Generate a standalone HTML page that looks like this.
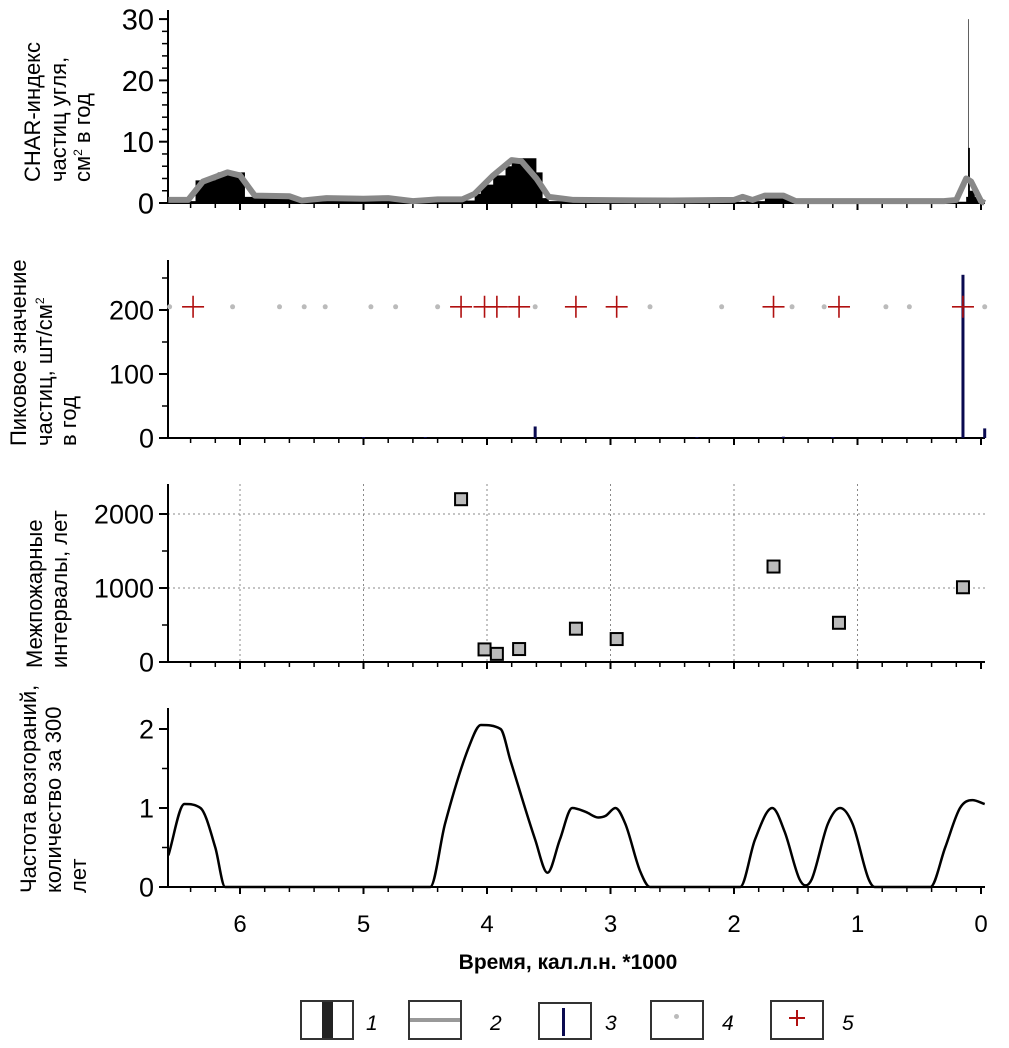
<!DOCTYPE html>
<html><head><meta charset="utf-8"><style>
body{margin:0;background:#fff}
svg{display:block;font-family:"Liberation Sans",sans-serif}
</style></head><body>
<svg id="c" width="1009" height="1048" viewBox="0 0 1009 1048" xmlns="http://www.w3.org/2000/svg"></svg>
<script>
// ---- data ----
const xTicks=[6,5,4,3,2,1,0];
const charT=[6.58,6.4,6.36,6.2,6.18,6.0,5.96,5.62,5.55,5.3,5.0,4.85,4.7,4.45,4.2,4.1,4.05,3.95,3.85,3.8,3.7,3.6,3.55,3.5,2.5,1.95,1.9,1.82,1.75,1.55,1.5,0.2,0.12,0.105,0.1,0.09,0.05,0.0,-0.03];
const charV=[0.3,0.3,3.7,4.0,5.0,5.0,1.0,1.0,0.3,0.6,0.5,0.7,0.2,0.5,0.4,1.5,3,4.5,6,7.3,7.3,5,0.8,0.3,0.2,0.2,0.8,0.3,1.0,0.8,0.2,0.2,1,30,9,2,1,0.3,0];
const bgT=[6.58,6.42,6.3,6.1,6.0,5.88,5.6,5.5,5.3,5.0,4.8,4.6,4.4,4.2,4.1,3.95,3.8,3.72,3.6,3.5,3.3,2.5,2.0,1.93,1.85,1.75,1.6,1.5,0.3,0.2,0.12,0.08,0.0,-0.03];
const bgV=[0.5,0.5,3.5,5,4.5,1.2,1.1,0.4,0.8,0.7,0.8,0.3,0.6,0.6,1.5,4.5,7,6.8,4,1.0,0.5,0.4,0.5,1.0,0.5,1.2,1.2,0.3,0.3,0.5,4,3.5,0.3,0];
const peakT=[0.146,3.61,-0.03,5.0,4.5,2.3,1.6,1.2];
const peakV=[255,18,15,1.5,1.5,1.5,2,1.5];
const fireT=[6.38,4.21,4.02,3.92,3.74,3.28,2.95,1.68,1.15,0.146];
const dotT=[6.57,6.06,5.68,5.48,5.31,4.94,4.74,4.4,3.61,2.68,2.10,1.53,1.27,0.77,0.58,-0.03];
const threshold=205;
const intT=[4.21,4.02,3.92,3.74,3.28,2.95,1.68,1.15,0.146];
const intV=[2200,170,110,175,450,310,1290,530,1010];
const freqT=[6.58,6.45,6.32,6.2,6.12,4.46,4.34,4.14,4.05,3.89,3.81,3.61,3.51,3.41,3.31,3.2,3.1,3.04,2.96,2.88,2.76,2.68,1.95,1.83,1.69,1.59,1.47,1.42,1.37,1.24,1.14,1.04,0.91,0.86,0.41,0.29,0.17,0.07,-0.03];
const freqV=[0.4,1.05,1.0,0.5,0,0,0.8,1.8,2.05,2.0,1.6,0.6,0.18,0.6,1.0,0.95,0.88,0.9,1.0,0.8,0.2,0,0,0.6,1.0,0.7,0.1,0.02,0.1,0.8,1.0,0.8,0.1,0,0,0.5,1.0,1.1,1.05];

// ---- helpers ----
const svg=document.getElementById('c');const NS='http://www.w3.org/2000/svg';
function mk(tag,at,parent){const e=document.createElementNS(NS,tag);for(const k in at)e.setAttribute(k,at[k]);(parent||svg).appendChild(e);return e;}
const X=t=>981-123.5*t;
const XL=168,XR=985;
function yS(zero,per){return v=>zero-v*per;}
const Y1=yS(203,6.13),Y2=yS(438,0.64),Y3=yS(662,0.074),Y4=yS(887,79);

function axes(name,top,bottom,yFn,ticks,minor,fs,grid){
  const g=mk('g',{});
  
  
  if(grid){
    xTicks.forEach(t=>{if(t>0)mk('line',{x1:X(t),x2:X(t),y1:top,y2:bottom,stroke:'#888','stroke-dasharray':'2,3'},g);});
    ticks.forEach(v=>{if(v>0)mk('line',{x1:XL,x2:XR,y1:yFn(v),y2:yFn(v),stroke:'#888','stroke-dasharray':'2,3'},g);});
  }
  mk('line',{x1:XL,x2:XL,y1:top,y2:bottom+1,stroke:'#000','stroke-width':2},g);
  mk('line',{x1:XL,x2:XR,y1:bottom,y2:bottom,stroke:'#000','stroke-width':2},g);
  for(let t=6.6;t>=-0.01;t-=0.2){const tt=Math.round(t*10)/10;const maj=Math.abs(tt-Math.round(tt))<0.01;
    if(X(tt)<XL)continue;
    mk('line',{x1:X(tt),x2:X(tt),y1:bottom,y2:bottom+(maj?7:5),stroke:'#000','stroke-width':maj?2:1.5},g);}
  minor.forEach(v=>mk('line',{x1:XL-6,x2:XL,y1:yFn(v),y2:yFn(v),stroke:'#000','stroke-width':1.5},g));
  ticks.forEach(v=>{mk('line',{x1:XL-9,x2:XL,y1:yFn(v),y2:yFn(v),stroke:'#000','stroke-width':2},g);
    const tx=mk('text',{x:XL-14,y:yFn(v)+fs*0.36,'text-anchor':'end','font-size':fs},g);tx.textContent=v;});
}
function ytitle(name,lines,xs,yb,fs){
  const g=mk('g',{});
  
  
  lines.forEach((l,i)=>{const t=mk('text',{transform:`translate(${xs[i]},${yb}) rotate(-90)`,'font-size':fs},g);t.innerHTML=l;});
}
// monotone cubic (Fritsch-Carlson) path
function monotone(pts){
  const n=pts.length,dx=[],s=[],m=[];
  for(let i=0;i<n-1;i++){dx[i]=pts[i+1][0]-pts[i][0];s[i]=(pts[i+1][1]-pts[i][1])/dx[i];}
  m[0]=s[0];m[n-1]=s[n-2];
  for(let i=1;i<n-1;i++){m[i]=(s[i-1]*s[i]<=0)?0:(s[i-1]+s[i])/2;}
  for(let i=0;i<n-1;i++){
    if(s[i]===0){m[i]=0;m[i+1]=0;continue;}
    const a=m[i]/s[i],b=m[i+1]/s[i],h=a*a+b*b;
    if(h>9){const tau=3/Math.sqrt(h);m[i]=tau*a*s[i];m[i+1]=tau*b*s[i];}
  }
  let d='M'+pts[0][0]+','+pts[0][1];
  for(let i=0;i<n-1;i++){const h=dx[i]/3;
    d+=` C${pts[i][0]+h},${pts[i][1]+m[i]*h} ${pts[i+1][0]-h},${pts[i+1][1]-m[i+1]*h} ${pts[i+1][0]},${pts[i+1][1]}`;}
  return d;
}

// ---- panel 1 ----
axes('char-axes',10,203,Y1,[0,10,20,30],[2,4,6,8,12,14,16,18,22,24,26,28],29,false);
let d='M'+X(charT[0])+','+Y1(0);
for(let i=0;i<charT.length-1;i++){d+=' L'+X(charT[i])+','+Y1(charV[i])+' L'+X(charT[i+1])+','+Y1(charV[i]);}
d+=' L'+X(charT[charT.length-1])+','+Y1(0)+'Z';
const ca=mk('path',{d:d,fill:'#000'});


const bg=mk('polyline',{points:bgT.map((t,i)=>X(t)+','+Y1(bgV[i])).join(' '),fill:'none',stroke:'#888','stroke-width':6,'stroke-linejoin':'round'});


ytitle('char-y-title',['CHAR-индекс','частиц угля,','см<tspan font-size="12" dy="-8">2</tspan><tspan dy="8"> в год</tspan>'],[40,66,90],182,22);

// ---- panel 2 ----
axes('peak-axes',260,438,Y2,[0,100,200],[50,150,250],27,false);
peakT.forEach((t,i)=>{const r=mk('rect',{x:X(t)-1.5,y:Y2(peakV[i]),width:3,height:438-Y2(peakV[i]),fill:'#0a0a50'});
  
  });
dotT.forEach(t=>{const c=mk('circle',{cx:X(t),cy:Y2(threshold),r:2.5,fill:'#bbb'});
  
  });
fireT.forEach(t=>{const p=mk('path',{d:`M${X(t)-11},${Y2(threshold)}h22M${X(t)},${Y2(threshold)-11}v22`,stroke:'#b01010','stroke-width':1.6});
  
  });
ytitle('peak-y-title',['Пиковое значение','частиц, шт/см<tspan font-size="12" dy="-8">2</tspan>','в  год'],[26,52,76],446,22);

// ---- panel 3 ----
axes('interval-axes',484,662,Y3,[0,1000,2000],[500,1500],27,true);
intT.forEach((t,i)=>{const r=mk('rect',{x:X(t)-6,y:Y3(intV[i])-6,width:12,height:12,fill:'#bbb',stroke:'#000','stroke-width':2});
  
  });
ytitle('interval-y-title',['Межпожарные','интервалы, лет'],[42,67],668,22);

// ---- panel 4 ----
axes('frequency-axes',708,887,Y4,[0,1,2],[0.5,1.5],27,false);
const fl=mk('path',{d:monotone(freqT.map((t,i)=>[X(t),Y4(freqV[i])])),fill:'none',stroke:'#000','stroke-width':2.5,'stroke-linejoin':'round'});


ytitle('frequency-y-title',['Частота возгораний,','количество за 300','лет'],[36,61,86],893,22);

// x labels
xTicks.forEach(t=>{const tx=mk('text',{x:X(t),y:932,'text-anchor':'middle','font-size':24});tx.textContent=t;
  
  });
</script>
<div style="position:absolute;left:0;top:0;width:1009px;height:1048px;pointer-events:none">
<div style="position:absolute;left:318px;top:951px;width:500px;text-align:center;font:bold 21px 'Liberation Sans',sans-serif">Время, кал.л.н. *1000</div>
<div style="position:absolute;left:0;top:0;font:italic 21px 'Liberation Sans',sans-serif">
 <div style="position:absolute;left:300px;top:1000px;width:50px;height:36px;border:2px solid #333"><div style="position:absolute;left:20px;top:0;width:11px;height:36px;background:#222"></div></div>
 <div style="position:absolute;left:366px;top:1012px">1</div>
 <div style="position:absolute;left:408px;top:1000px;width:50px;height:36px;border:2px solid #333"><div style="position:absolute;left:0;top:16px;width:50px;height:4px;background:#999"></div></div>
 <div style="position:absolute;left:490px;top:1012px">2</div>
 <div style="position:absolute;left:538px;top:1002px;width:50px;height:34px;border:2px solid #333"><div style="position:absolute;left:22px;top:4px;width:3px;height:28px;background:#0a0a50"></div></div>
 <div style="position:absolute;left:605px;top:1012px">3</div>
 <div style="position:absolute;left:650px;top:1000px;width:50px;height:36px;border:2px solid #333"><div style="position:absolute;left:22px;top:12px;width:5px;height:5px;border-radius:50%;background:#bbb"></div></div>
 <div style="position:absolute;left:722px;top:1012px">4</div>
 <div style="position:absolute;left:770px;top:1000px;width:50px;height:36px;border:2px solid #333"><div style="position:absolute;left:17px;top:15px;width:16px;height:2px;background:#b01010"></div><div style="position:absolute;left:24px;top:8px;width:2px;height:16px;background:#b01010"></div></div>
 <div style="position:absolute;left:842px;top:1012px">5</div>
</div>
</div>
</body></html>
